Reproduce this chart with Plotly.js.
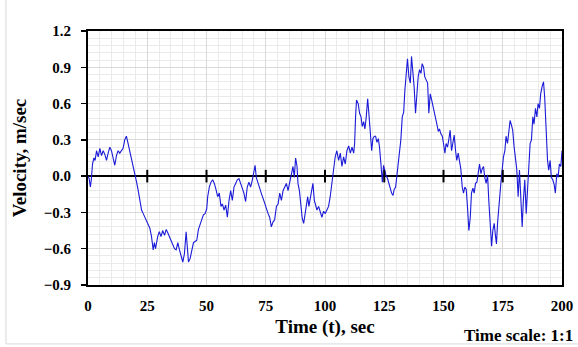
<!DOCTYPE html>
<html>
<head>
<meta charset="utf-8">
<script src="https://cdn.plot.ly/plotly-3.0.1.min.js"></script>
<style>html,body{margin:0;padding:0;background:#fff;}#chart{width:578px;height:347px;}</style>
</head>
<body>
<div id="chart"></div>
<script>
// Time (sec) and velocity (m/sec)
const timeSec = [
  0, 0.5, 1.0, 1.4, 1.9, 2.5, 3.0, 3.6, 4.3, 5.0, 5.7, 6.4, 7.1, 7.8, 8.5, 9.2, 9.9, 10.6, 11.3, 12.0,
  12.7, 13.4, 14.1, 14.8, 15.5, 16.2, 16.9, 17.6, 18.3, 19.0, 19.8, 20.5, 21.2, 21.9, 22.6, 23.3, 24.0, 24.7, 25.4, 26.1,
  26.8, 27.5,
  28.0, 28.5, 29.4, 30.1, 30.8, 31.5, 32.3, 33.0, 33.7, 34.4, 35.1, 35.8, 36.5, 37.2, 37.9, 38.6, 39.3, 40.0, 40.7, 41.4,
  41.8, 42.4, 43.1, 43.8, 44.5, 45.2, 45.9, 46.6, 47.3, 48.0, 48.7, 49.4, 50.1, 50.5, 51.2, 51.9, 52.6, 53.3, 54.0, 54.7,
  55.4, 56.1,
  56.7, 57.4, 58.1, 58.8, 59.5, 60.2, 60.9, 61.6, 62.3, 63.0, 63.7, 64.4, 65.1, 65.8, 66.5, 67.2, 67.9, 68.6, 69.35, 70.05,
  70.5, 71.0, 71.7, 72.4, 73.1, 73.8, 74.55, 75.25, 76.0, 76.65, 77.35, 78.05, 78.75, 79.5, 80.2, 80.9, 81.6, 82.3, 83.0, 83.7,
  84.4, 85.1,
  85.4, 86.1, 86.5, 87.05, 87.6, 88.2, 88.6, 89.2, 89.9, 90.4, 91.0, 91.6, 92.1, 92.7, 93.2, 93.8, 94.4, 94.9, 95.5, 96.05,
  96.6, 97.3, 98.0, 98.7, 99.4, 100.1, 100.8, 101.5, 102.2, 103.0, 103.6, 104.3, 105.0, 105.75, 106.45, 107.15, 107.85, 108.55, 109.25, 110.0,
  110.7, 111.4, 112.1, 112.5, 112.9, 113.3,
  114.0, 114.6, 115.2, 115.7, 116.3, 116.85, 117.4, 118.0, 118.5, 119.1, 119.7, 120.2, 120.8, 121.35, 121.9, 122.5, 123.0, 123.6, 124.2, 124.7,
  125.3, 125.8, 126.4, 127.0, 127.5, 128.1, 128.7, 129.2, 129.8, 130.3, 130.9, 131.5, 132.0, 132.6, 133.2, 133.7, 134.3, 134.8, 135.4, 136.0,
  136.5, 137.1, 137.6, 138.2, 138.8, 139.3, 139.9, 140.5, 141.0, 141.6, 142.1,
  142.7, 143.3, 143.8, 144.4, 145.0, 145.5, 146.1, 146.6, 147.2, 147.8, 148.3, 148.9, 149.5, 150.0, 150.6, 151.1, 151.7, 152.3, 152.8, 153.4,
  153.95, 154.5, 155.1, 155.6, 156.2, 156.8, 157.3, 157.9, 158.45, 159.0, 159.6, 160.1, 160.7, 161.3, 161.8, 162.4, 162.95, 163.5, 164.1, 164.6,
  165.2, 165.8, 166.3, 166.9, 167.4, 168.0, 168.6, 169.1, 169.7, 170.3, 170.8,
  171.4, 171.9, 172.35, 172.8, 173.2, 173.6, 174.2, 174.75, 175.3, 175.9, 176.4, 177.0, 177.6, 178.1, 178.7, 179.2, 179.8, 180.4, 180.9, 181.5,
  182.05, 182.6, 183.2, 183.7, 184.3, 184.9, 185.4, 186.0, 186.55, 187.1, 187.7, 188.2, 188.8, 189.4, 189.9, 190.5, 191.0, 191.6, 192.2, 192.7,
  193.3, 193.9, 194.4, 195.0, 195.5, 196.1, 196.7, 197.2, 197.8, 198.35, 198.9, 199.5, 200.0
];
const velocity = [
  0.0, -0.02, -0.09, -0.03, 0.10, 0.15, 0.13, 0.21, 0.16, 0.23, 0.17, 0.21, 0.18, 0.13, 0.19, 0.24, 0.21, 0.16, 0.09, 0.17,
  0.21, 0.19, 0.21, 0.23, 0.30, 0.33, 0.27, 0.21, 0.16, 0.09, 0.02, -0.05, -0.12, -0.20, -0.28, -0.31, -0.34, -0.36, -0.39, -0.43,
  -0.50, -0.61,
  -0.55, -0.60, -0.50, -0.46, -0.50, -0.45, -0.49, -0.44, -0.47, -0.50, -0.53, -0.56, -0.60, -0.61, -0.55, -0.61, -0.67, -0.71, -0.64, -0.46,
  -0.56, -0.71, -0.68, -0.61, -0.55, -0.54, -0.53, -0.44, -0.39, -0.36, -0.32, -0.31, -0.27, -0.17, -0.09, -0.05, -0.03, -0.06, -0.11, -0.17,
  -0.14, -0.25,
  -0.23, -0.28, -0.24, -0.34, -0.20, -0.12, -0.20, -0.09, -0.06, -0.03, -0.02, -0.06, -0.09, -0.14, -0.21, -0.09, -0.05, -0.09, -0.03, 0.05,
  0.09, -0.01, -0.06, -0.09, -0.14, -0.18, -0.23, -0.28, -0.31, -0.34, -0.42, -0.38, -0.36, -0.25, -0.23, -0.14, -0.20, -0.12, -0.09, -0.06,
  -0.12, -0.05,
  -0.02, 0.02, 0.08, -0.01, 0.15, 0.08, -0.06, -0.12, -0.23, -0.35, -0.39, -0.31, -0.25, -0.17, -0.25, -0.17, -0.12, -0.06, -0.20, -0.25,
  -0.28, -0.25, -0.29, -0.34, -0.29, -0.31, -0.28, -0.25, -0.17, -0.06, 0.05, 0.16, 0.21, 0.13, 0.19, 0.08, 0.16, 0.10, 0.21, 0.25,
  0.19, 0.24, 0.19, 0.27, 0.49, 0.63,
  0.60, 0.52, 0.49, 0.41, 0.45, 0.39, 0.49, 0.64, 0.52, 0.38, 0.21, 0.31, 0.33, 0.33, 0.28, 0.31, 0.24, 0.10, -0.05, 0.09,
  0.04, 0.00, -0.02, -0.06, -0.11, -0.14, -0.16, -0.11, -0.09, -0.01, 0.13, 0.21, 0.30, 0.49, 0.53, 0.71, 0.88, 0.97, 0.82, 0.77,
  0.99, 0.85, 0.74, 0.52, 0.74, 0.82, 0.88, 0.85, 0.93, 0.90, 0.82,
  0.80, 0.77, 0.52, 0.68, 0.63, 0.59, 0.52, 0.50, 0.43, 0.37, 0.39, 0.35, 0.33, 0.27, 0.19, 0.27, 0.24, 0.31, 0.38, 0.21,
  0.27, 0.34, 0.21, 0.13, 0.19, 0.10, 0.06, -0.09, -0.14, -0.09, -0.11, -0.25, -0.45, -0.34, -0.14, -0.10, -0.14, -0.06, -0.05, 0.02,
  0.10, 0.02, 0.06, 0.08, -0.01, -0.06, 0.01, -0.20, -0.39, -0.58, -0.45,
  -0.39, -0.49, -0.56, -0.39, -0.28, -0.17, -0.06, 0.05, 0.16, 0.21, 0.33, 0.27, 0.41, 0.46, 0.42, 0.38, 0.24, 0.13, 0.06, -0.17,
  0.05, -0.17, -0.42, -0.20, -0.03, -0.31, -0.12, 0.10, 0.27, 0.30, 0.49, 0.43, 0.56, 0.49, 0.60, 0.56, 0.68, 0.74, 0.78, 0.65,
  0.38, 0.13, 0.05, 0.13, -0.01, -0.03, -0.07, -0.14, 0.02, -0.01, 0.10, 0.08, 0.21
];
// Positions of the small tick marks drawn on the zero line
const zeroLineTicks = [25, 50, 75, 100, 125, 150, 175];
const zeroLineTickY = [0, 0, 0, 0, 0, 0, 0];

const serif = 'Liberation Serif, Times New Roman, serif';
const tickFont = {family: serif, size: 15, color: '#000', weight: 'bold'};
const titleFont = {family: serif, size: 19, color: '#000', weight: 'bold'};

const traces = [
  {
    x: timeSec, y: velocity, type: 'scatter', mode: 'lines',
    line: {color: '#1a1ad8', width: 1.1},
    hoverinfo: 'x+y', showlegend: false
  },
  {
    x: zeroLineTicks, y: zeroLineTickY, type: 'scatter', mode: 'markers',
    marker: {symbol: 'line-ns', size: 9, line: {color: '#000', width: 2}},
    hoverinfo: 'skip', showlegend: false
  }
];

const layout = {
  width: 578, height: 347,
  margin: {l: 88, r: 16, t: 31, b: 62},
  paper_bgcolor: '#fff', plot_bgcolor: '#fff',
  showlegend: false,
  xaxis: {
    range: [0, 200], tick0: 0, dtick: 25,
    showgrid: true, gridcolor: '#d9d9d9', gridwidth: 1,
    minor: {dtick: 5, showgrid: true, gridcolor: '#eaeaea', gridwidth: 1},
    showline: true, linecolor: '#000', linewidth: 2, mirror: true,
    ticks: '', zeroline: false,
    tickfont: tickFont, ticklabelstandoff: 6,
    title: {text: 'Time (t), sec', font: titleFont, standoff: 7}
  },
  yaxis: {
    range: [-0.9, 1.2], tick0: 0, dtick: 0.3, tickformat: '.1f',
    showgrid: true, gridcolor: '#d9d9d9', gridwidth: 1,
    minor: {dtick: 0.06, showgrid: true, gridcolor: '#eaeaea', gridwidth: 1},
    showline: true, linecolor: '#000', linewidth: 2, mirror: true,
    ticks: 'outside', ticklen: 5, tickwidth: 1.5, tickcolor: '#000',
    zeroline: true, zerolinecolor: '#000', zerolinewidth: 2,
    tickfont: tickFont, ticklabelstandoff: 7,
    title: {text: 'Velocity, m/sec', font: titleFont, standoff: 12}
  },
  annotations: [
    {text: 'Time scale: 1:1', xref: 'paper', yref: 'paper', x: 1.027, y: -0.197,
     xanchor: 'right', yanchor: 'middle', showarrow: false,
     font: {family: serif, size: 17, color: '#000', weight: 'bold'}}
  ],
  shapes: [
    {type: 'line', xref: 'paper', yref: 'paper', x0: -0.173, x1: -0.173, y0: -0.232, y1: 1.13,
     line: {color: '#d9d9d9', width: 1}},
    {type: 'line', xref: 'paper', yref: 'paper', x0: -0.173, x1: 1.1, y0: -0.232, y1: -0.232,
     line: {color: '#d9d9d9', width: 1}}
  ]
};

Plotly.newPlot('chart', traces, layout, {displayModeBar: false, staticPlot: true});
</script>
</body>
</html>
